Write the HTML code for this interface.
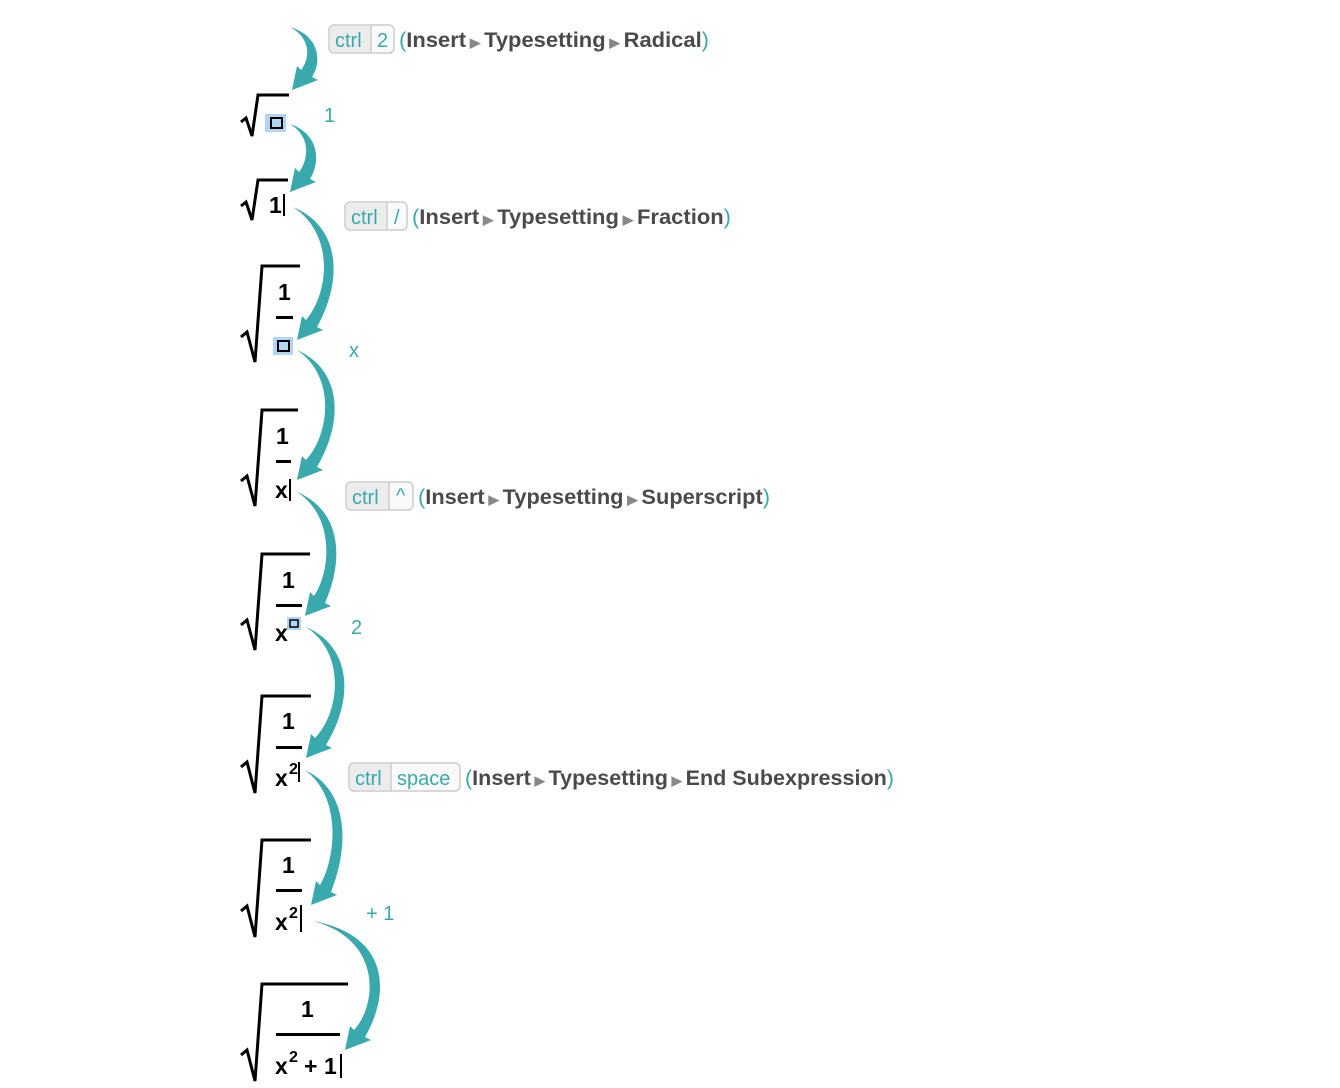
<!DOCTYPE html>
<html><head><meta charset="utf-8"><style>
html,body{margin:0;padding:0;background:#fff;}
svg{display:block;}
.m{font-family:"Liberation Sans",sans-serif;font-weight:bold;font-size:23px;fill:#000;}
.t{font-family:"Liberation Sans",sans-serif;font-size:20px;fill:#3aa9ad;}
.w{font-family:"Liberation Sans",sans-serif;font-weight:bold;font-size:21px;fill:#4a4a4a;}
.tri{fill:#888;font-size:13px;}
.k{font-family:"Liberation Sans",sans-serif;font-size:20px;fill:#3aa9ad;}
</style></head><body>
<svg width="1340" height="1088" viewBox="0 0 1340 1088" xmlns="http://www.w3.org/2000/svg">
<g fill="#3aa9ad">
<path d="M290,27 C320,36 322,62 312,77 L318,80 L292,90 L297,66 L301,70 C308,62 314,40 290,27Z"/>
<path d="M290,124 C319,134 321,161 310,179 L316,182 L290,192 L295,168 L299,172 C307,162 313,138 290,124Z"/>
<path d="M293,207 C341,227 343,280 317,327 L323,330 L297,340 L302,316 L306,320 C329,293 335,234 293,207Z"/>
<path d="M297,350 C342,370 344,421 317,467 L323,470 L297,480 L302,456 L306,460 C330,434 336,376 297,350Z"/>
<path d="M297,492 C342,511 344,560 325,603 L331,606 L305,616 L310,592 L314,596 C330,573 336,517 297,492Z"/>
<path d="M306,627 C352,647 354,699 326,745 L332,748 L306,758 L311,734 L315,738 C340,712 346,653 306,627Z"/>
<path d="M305,770 C348,790 350,844 331,892 L337,895 L311,905 L316,881 L320,885 C336,858 342,797 305,770Z"/>
<path d="M313,921 C389,935 391,992 365,1037 L371,1040 L345,1050 L350,1026 L354,1030 C377,1005 383,940 313,921Z"/>
</g>
<g fill="none" stroke="#000" stroke-width="3" stroke-linejoin="miter">
<path d="M241,122 L246,118 L252,136 L258,95 L289,95"/>
<path d="M241,206 L246,202 L252,220 L258,180 L288,180"/>
<path d="M241,337 L247,332 L255,362 L262,266 L300,266"/>
<path d="M241,481 L247,476 L255,506 L262,410 L298,410"/>
<path d="M241,625 L247,620 L255,650 L262,554 L310,554"/>
<path d="M241,767 L247,762 L255,793 L262,696 L311,696"/>
<path d="M241,911 L247,906 L255,937 L262,840 L311,840"/>
<path d="M241,1055 L247,1050 L255,1081 L262,984 L348,984"/>
</g>
<g fill="#000">
<rect x="276" y="316" width="17" height="3"/>
<rect x="276" y="460" width="15" height="3"/>
<rect x="276" y="604" width="26" height="3"/>
<rect x="276" y="746" width="26" height="3"/>
<rect x="276" y="889" width="26" height="3"/>
<rect x="276" y="1033" width="64" height="3"/>
</g>
<rect x="265" y="114" width="21" height="18" fill="#b3d4f5"/>
<rect x="271" y="118" width="11" height="10" fill="none" stroke="#000" stroke-width="2"/>
<rect x="273" y="337" width="20" height="18" fill="#b3d4f5"/>
<rect x="278" y="341" width="11" height="10" fill="none" stroke="#000" stroke-width="2"/>
<rect x="287" y="617" width="14" height="13" fill="#b3d4f5"/>
<rect x="290" y="620" width="8" height="7" fill="none" stroke="#000" stroke-width="1.5"/>
<text class="m" x="269" y="213">1</text><rect x="283" y="194" width="2" height="22" fill="#000"/>
<text class="m" x="278" y="300">1</text>
<text class="m" x="276" y="444">1</text>
<text class="m" x="275" y="498">x</text><rect x="289" y="479" width="2" height="22" fill="#000"/>
<text class="m" x="282" y="588">1</text>
<text class="m" x="275" y="641">x</text>
<text class="m" x="282" y="729">1</text>
<text class="m" x="275" y="786">x</text><text class="m" x="289" y="774" style="font-size:16px">2</text><rect x="298" y="762" width="2" height="20" fill="#000"/>
<text class="m" x="282" y="873">1</text>
<text class="m" x="275" y="930">x</text><text class="m" x="289" y="918" style="font-size:16px">2</text><rect x="300" y="905" width="2" height="27" fill="#000"/>
<text class="m" x="301" y="1017">1</text>
<text class="m" x="275" y="1074">x</text><text class="m" x="289" y="1062" style="font-size:16px">2</text><text class="m" x="304" y="1074">+</text><text class="m" x="324" y="1074">1</text><rect x="340" y="1054" width="2" height="24" fill="#000"/>
<text class="t" x="324" y="122">1</text>
<text class="t" x="349" y="357">x</text>
<text class="t" x="351" y="634">2</text>
<text class="t" x="366" y="920">+ 1</text>
<g stroke="#ccc" stroke-width="1.5">
<rect x="329" y="25" width="65" height="28" rx="5" fill="#fafafa"/>
<path d="M334,25.75 H371 V52.25 H334 A4.25,4.25 0 0 1 329.75,48 V30 A4.25,4.25 0 0 1 334,25.75Z" fill="#ececec" stroke="none"/>
<line x1="371" y1="25" x2="371" y2="53"/>
<rect x="345" y="202" width="62" height="28" rx="5" fill="#fafafa"/>
<path d="M350,202.75 H387 V229.25 H350 A4.25,4.25 0 0 1 345.75,225 V207 A4.25,4.25 0 0 1 350,202.75Z" fill="#ececec" stroke="none"/>
<line x1="387" y1="202" x2="387" y2="230"/>
<rect x="346" y="482" width="67" height="28" rx="5" fill="#fafafa"/>
<path d="M351,482.75 H389 V509.25 H351 A4.25,4.25 0 0 1 346.75,505 V487 A4.25,4.25 0 0 1 351,482.75Z" fill="#ececec" stroke="none"/>
<line x1="389" y1="482" x2="389" y2="510"/>
<rect x="349" y="763" width="111" height="28" rx="5" fill="#fafafa"/>
<path d="M354,763.75 H391 V790.25 H354 A4.25,4.25 0 0 1 349.75,786 V768 A4.25,4.25 0 0 1 354,763.75Z" fill="#ececec" stroke="none"/>
<line x1="391" y1="763" x2="391" y2="791"/>
</g>
<text class="k" x="335" y="47">ctrl</text><text class="k" x="377" y="47">2</text>
<text class="k" x="351" y="224">ctrl</text><text class="k" x="394" y="224">/</text>
<text class="k" x="352" y="504">ctrl</text><text class="k" x="396" y="502">^</text>
<text class="k" x="355" y="785">ctrl</text><text class="k" x="397" y="785">space</text>
<text class="w" x="399" y="47" textLength="310" lengthAdjust="spacingAndGlyphs"><tspan fill="#3aa9ad" font-weight="normal">(</tspan>Insert<tspan class="tri"> ▶ </tspan>Typesetting<tspan class="tri"> ▶ </tspan>Radical<tspan fill="#3aa9ad" font-weight="normal">)</tspan></text>
<text class="w" x="412" y="224" textLength="319" lengthAdjust="spacingAndGlyphs"><tspan fill="#3aa9ad" font-weight="normal">(</tspan>Insert<tspan class="tri"> ▶ </tspan>Typesetting<tspan class="tri"> ▶ </tspan>Fraction<tspan fill="#3aa9ad" font-weight="normal">)</tspan></text>
<text class="w" x="418" y="504" textLength="352" lengthAdjust="spacingAndGlyphs"><tspan fill="#3aa9ad" font-weight="normal">(</tspan>Insert<tspan class="tri"> ▶ </tspan>Typesetting<tspan class="tri"> ▶ </tspan>Superscript<tspan fill="#3aa9ad" font-weight="normal">)</tspan></text>
<text class="w" x="465" y="785" textLength="429" lengthAdjust="spacingAndGlyphs"><tspan fill="#3aa9ad" font-weight="normal">(</tspan>Insert<tspan class="tri"> ▶ </tspan>Typesetting<tspan class="tri"> ▶ </tspan>End Subexpression<tspan fill="#3aa9ad" font-weight="normal">)</tspan></text>
</svg>
</body></html>
